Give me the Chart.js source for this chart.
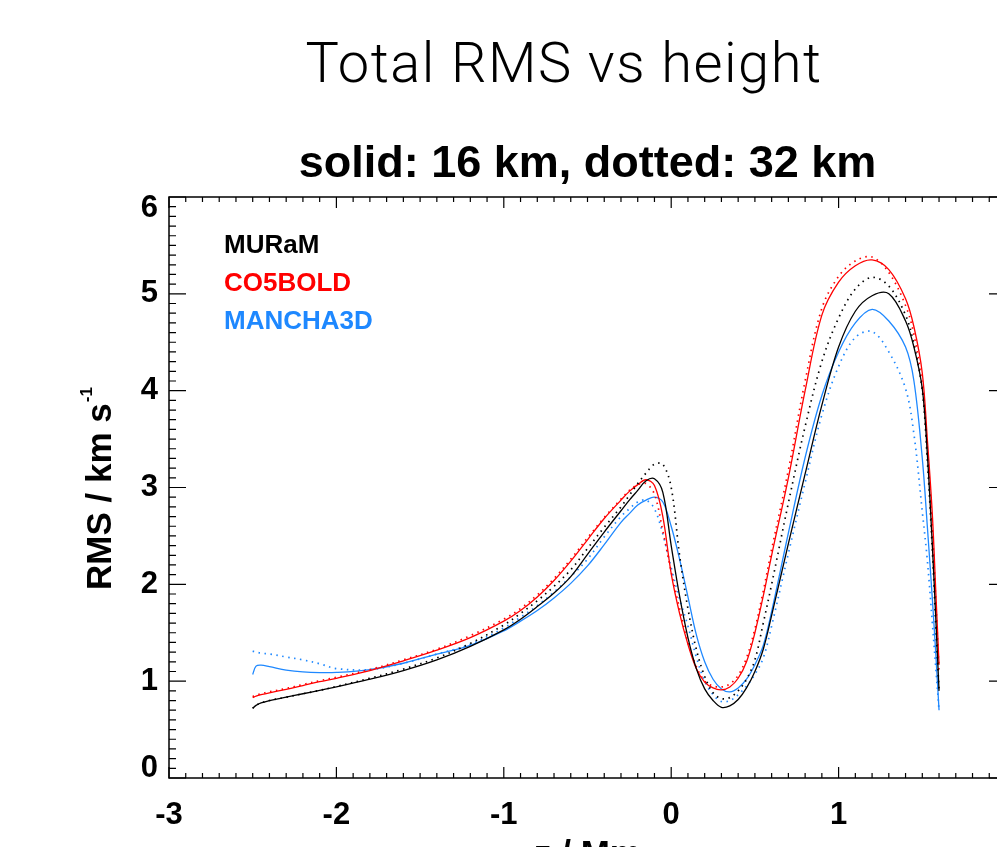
<!DOCTYPE html>
<html lang="en">
<head>
    <meta charset="UTF-8">
    <title>Total RMS vs height</title>
    <script src="https://cdn.jsdelivr.net/npm/chart.js"></script>
    <style>
        html, body { margin: 0; padding: 0; background: #fff; overflow: hidden; }
        #wrap { position: absolute; left: 0; top: 0; width: 1040px; height: 847px; }
    </style>
</head>
<body>
    <div id="wrap"><canvas id="rmsChart" width="1040" height="847"></canvas></div>
    <script>
        // height grid (Mm), shared by all runs
        const heights = [-2.5, -2.48, -2.45, -2.4, -2.3, -2.2, -2.1, -2.0, -1.8, -1.6, -1.4, -1.2,
            -1.0, -0.9, -0.8, -0.7, -0.6, -0.5, -0.4, -0.3, -0.25, -0.2, -0.15, -0.1, -0.05,
            0.0, 0.05, 0.1, 0.15, 0.2, 0.25, 0.3, 0.35, 0.4, 0.45, 0.5, 0.55, 0.6, 0.7, 0.8,
            0.9, 1.0, 1.1, 1.2, 1.3, 1.4, 1.45, 1.5, 1.53, 1.56, 1.58, 1.6];

        // total RMS (km/s), solid = 16 km runs, dotted = 32 km runs
        const muram16 = [0.72, 0.75, 0.775, 0.80, 0.835, 0.87, 0.905, 0.94, 1.02, 1.11, 1.22, 1.36,
            1.53, 1.64, 1.77, 1.91, 2.08, 2.31, 2.54, 2.76, 2.87, 2.97, 3.07, 3.09, 2.95,
            2.40, 1.88, 1.45, 1.13, 0.92, 0.80, 0.73, 0.745, 0.81, 0.93, 1.10, 1.33, 1.68, 2.42, 3.14,
            3.85, 4.45, 4.82, 4.98, 5.00, 4.72, 4.45, 4.02, 3.35, 2.40, 1.67, 0.90];
        const cobold16 = [0.83, 0.845, 0.86, 0.88, 0.915, 0.955, 0.995, 1.03, 1.11, 1.21, 1.32, 1.45,
            1.62, 1.73, 1.87, 2.04, 2.24, 2.46, 2.68, 2.87, 2.96, 3.03, 3.08, 3.02, 2.70,
            2.11, 1.70, 1.38, 1.13, 0.99, 0.93, 0.91, 0.94, 1.03, 1.20, 1.50, 1.88, 2.30, 3.10, 4.00,
            4.78, 5.12, 5.29, 5.35, 5.25, 4.95, 4.66, 4.18, 3.50, 2.72, 1.95, 1.17];
        const mancha16 = [1.07, 1.155, 1.165, 1.15, 1.115, 1.095, 1.088, 1.09, 1.12, 1.185, 1.28, 1.37,
            1.52, 1.62, 1.73, 1.86, 2.01, 2.19, 2.41, 2.64, 2.73, 2.82, 2.87, 2.90, 2.85,
            2.60, 2.26, 1.87, 1.48, 1.20, 1.02, 0.92, 0.89, 0.93, 1.02, 1.17, 1.37, 1.72, 2.53, 3.31,
            3.95, 4.40, 4.70, 4.84, 4.72, 4.45, 4.10, 3.30, 2.60, 1.85, 1.30, 0.70];
        const muram32 = [0.72, 0.75, 0.775, 0.80, 0.835, 0.87, 0.905, 0.945, 1.03, 1.125, 1.24, 1.39,
            1.58, 1.70, 1.83, 1.98, 2.15, 2.37, 2.59, 2.80, 2.92, 3.04, 3.15, 3.24, 3.24,
            3.00, 2.30, 1.75, 1.33, 1.05, 0.88, 0.82, 0.83, 0.90, 1.02, 1.22, 1.60, 2.00, 2.84, 3.63,
            4.30, 4.75, 5.05, 5.17, 5.08, 4.78, 4.48, 4.00, 3.28, 2.35, 1.60, 0.90];
        const cobold32 = [0.84, 0.855, 0.87, 0.89, 0.925, 0.965, 1.005, 1.04, 1.12, 1.22, 1.33, 1.47,
            1.64, 1.75, 1.89, 2.06, 2.26, 2.48, 2.69, 2.88, 2.97, 3.03, 3.04, 2.93, 2.55,
            2.13, 1.75, 1.40, 1.15, 1.00, 0.95, 0.94, 0.97, 1.06, 1.24, 1.54, 1.93, 2.36, 3.18, 4.10,
            4.85, 5.18, 5.34, 5.38, 5.22, 4.88, 4.58, 4.05, 3.38, 2.55, 1.85, 1.10];
        const mancha32 = [1.31, 1.30, 1.29, 1.28, 1.25, 1.22, 1.18, 1.13, 1.12, 1.185, 1.28, 1.38,
            1.55, 1.66, 1.78, 1.92, 2.08, 2.26, 2.49, 2.70, 2.78, 2.85, 2.87, 2.78, 2.52,
            2.17, 1.85, 1.57, 1.25, 1.00, 0.86, 0.79, 0.80, 0.86, 0.95, 1.07, 1.24, 1.57, 2.32, 3.05,
            3.75, 4.25, 4.55, 4.61, 4.40, 4.02, 3.55, 2.75, 2.25, 1.60, 1.15, 0.70];

        const codes = ['MURaM', 'CO5BOLD', 'MANCHA3D'];
        const codeColors = ['#000000', '#ff0000', '#1e88ff'];
        const xTicks = [-3, -2, -1, 0, 1, 2];
        const yTicks = [0, 1, 2, 3, 4, 5, 6];

        const pts = vals => vals.map((v, i) => ({ x: heights[i], y: v }));
        const solid = (label, vals, color) => ({
            label: label, data: pts(vals), borderColor: color, borderWidth: 1.3,
            pointRadius: 0, tension: 0.35, fill: false
        });
        const dotted = (label, vals, color) => ({
            label: label, data: pts(vals), borderColor: color, borderWidth: 1.7,
            borderDash: [1.5, 4.5], pointRadius: 0, tension: 0.35, fill: false
        });

        const FONT = '"Liberation Sans", Arial, Helvetica, sans-serif';

        // IDL style box, inward ticks, labels and titles
        const idlFrame = {
            id: 'idlFrame',
            afterDraw(chart) {
                const { ctx, chartArea: a, scales: { x, y } } = chart;
                ctx.save();
                ctx.strokeStyle = '#000';
                ctx.lineWidth = 1.5;
                ctx.strokeRect(a.left, a.top, a.right - a.left, a.bottom - a.top);

                ctx.lineWidth = 1.2;
                ctx.beginPath();
                for (let i = yTicks[0] * 10; i <= yTicks[yTicks.length - 1] * 10; i++) {
                    const p = y.getPixelForValue(i / 10);
                    const len = i % 10 === 0 ? 17 : 7;
                    ctx.moveTo(a.left, p); ctx.lineTo(a.left + len, p);
                    ctx.moveTo(a.right, p); ctx.lineTo(a.right - len, p);
                }
                for (let i = xTicks[0] * 10; i <= xTicks[xTicks.length - 1] * 10; i++) {
                    const p = x.getPixelForValue(i / 10);
                    const len = i % 10 === 0 ? 11 : 5;
                    ctx.moveTo(p, a.bottom); ctx.lineTo(p, a.bottom - len);
                    ctx.moveTo(p, a.top); ctx.lineTo(p, a.top + len);
                }
                ctx.stroke();

                ctx.fillStyle = '#000';
                ctx.font = 'bold 31px ' + FONT;
                ctx.textAlign = 'right';
                ctx.textBaseline = 'middle';
                yTicks.forEach(v => {
                    const p = Math.min(Math.max(y.getPixelForValue(v), a.top + 11), a.bottom - 10);
                    ctx.fillText(String(v), a.left - 11, p);
                });
                ctx.textAlign = 'center';
                ctx.textBaseline = 'alphabetic';
                xTicks.forEach(v => {
                    ctx.fillText(String(v), x.getPixelForValue(v), a.bottom + 46);
                });

                const cx = (a.left + a.right) / 2;
                ctx.font = 'bold 35px ' + FONT;
                ctx.fillText('z / Mm', cx, a.bottom + 87);

                ctx.font = 'bold 45px ' + FONT;
                ctx.fillText('solid: 16 km, dotted: 32 km', cx, 177);

                ctx.font = '300 56px Roboto, "Open Sans", sans-serif';
                ctx.letterSpacing = '1.5px';
                ctx.fillText('Total RMS vs height', 564, 82);
                ctx.letterSpacing = '0px';

                // y axis title with superscript
                ctx.save();
                ctx.translate(111, 590);
                ctx.rotate(-Math.PI / 2);
                ctx.textAlign = 'left';
                ctx.font = 'bold 35px ' + FONT;
                const main = 'RMS / km s';
                ctx.fillText(main, 0, 0);
                const w = ctx.measureText(main).width;
                ctx.font = 'bold 17px ' + FONT;
                ctx.fillText('-1', w + 1, -19);
                ctx.restore();

                // legend
                ctx.textAlign = 'left';
                ctx.font = 'bold 26px ' + FONT;
                codes.forEach((c, i) => {
                    ctx.fillStyle = codeColors[i];
                    ctx.fillText(c, a.left + 55, a.top + 56 + i * 38);
                });
                ctx.restore();
            }
        };

        new Chart(document.getElementById('rmsChart'), {
            type: 'line',
            data: {
                datasets: [
                    solid(codes[0] + ' 16 km', muram16, codeColors[0]),
                    dotted(codes[0] + ' 32 km', muram32, codeColors[0]),
                    solid(codes[1] + ' 16 km', cobold16, codeColors[1]),
                    dotted(codes[1] + ' 32 km', cobold32, codeColors[1]),
                    solid(codes[2] + ' 16 km', mancha16, codeColors[2]),
                    dotted(codes[2] + ' 32 km', mancha32, codeColors[2])
                ]
            },
            options: {
                responsive: false,
                animation: false,
                layout: { padding: { left: 0, right: 34, top: 197, bottom: 0 } },
                plugins: { legend: { display: false }, tooltip: { enabled: false } },
                scales: {
                    x: {
                        type: 'linear', min: -3, max: 2,
                        grid: { display: false, drawTicks: false },
                        border: { display: false },
                        ticks: { display: false },
                        afterFit: s => { s.height = 69; }
                    },
                    y: {
                        min: 0, max: 6,
                        grid: { display: false, drawTicks: false },
                        border: { display: false },
                        ticks: { display: false },
                        afterFit: s => { s.width = 169; }
                    }
                }
            },
            plugins: [idlFrame]
        });
    </script>
</body>
</html>
